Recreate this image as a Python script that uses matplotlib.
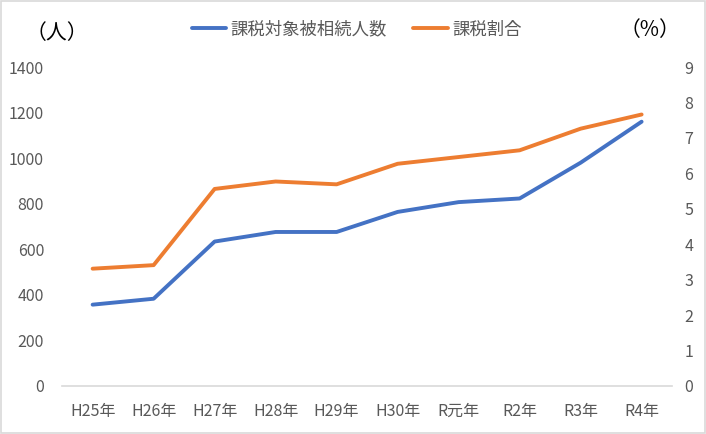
import matplotlib
matplotlib.use("Agg")
import matplotlib.pyplot as plt
from matplotlib.patches import Rectangle

plt.rcParams['font.family'] = ['Noto Sans CJK JP', 'DejaVu Sans']

years = ["H25年", "H26年", "H27年", "H28年", "H29年", "H30年", "R元年", "R2年", "R3年", "R4年"]
taxed_people = [357, 383, 634, 676, 676, 764, 807, 823, 980, 1160]     # 課税対象被相続人数 (人)
taxed_ratio = [3.31, 3.41, 5.56, 5.77, 5.69, 6.27, 6.46, 6.65, 7.26, 7.66]  # 課税割合 (%)
left_ticks = [0, 200, 400, 600, 800, 1000, 1200, 1400]
right_ticks = list(range(0, 10))

BLUE, ORANGE, GREY = "#4472C4", "#ED7D31", "#595959"

fig = plt.figure(figsize=(7.06, 4.34), dpi=100)
fig.patches.append(Rectangle((0.002, 0.003), 0.996, 0.994, transform=fig.transFigure,
                             fill=False, ec="#D9D9D9", lw=1.2))
ax = fig.add_axes([0.088, 0.1106, 0.864, 0.735])
ax2 = ax.twinx()

x = range(len(years))
ln1, = ax.plot(x, taxed_people, color=BLUE, lw=2.8, solid_capstyle="round", label="課税対象被相続人数")
ln2, = ax2.plot(x, taxed_ratio, color=ORANGE, lw=2.8, solid_capstyle="round", label="課税割合")

ax.set_xlim(-0.5, len(years) - 0.5)
ax.set_ylim(0, 1400)
ax2.set_ylim(0, 9)
ax.set_yticks(left_ticks)
ax2.set_yticks(right_ticks)
ax.set_xticks(list(x))
ax.set_xticklabels(years)

for a in (ax, ax2):
    for s in a.spines.values():
        s.set_visible(False)
    a.tick_params(length=0, colors=GREY, labelsize=11.5)
ax.spines["bottom"].set_visible(True)
ax.spines["bottom"].set_color("#D9D9D9")
ax.spines["bottom"].set_linewidth(1.2)
ax.tick_params(axis="y", pad=13)
ax2.tick_params(axis="y", pad=9)
ax.tick_params(axis="x", pad=12)

fig.text(0.08, 0.925, "（人）", ha="center", va="center", fontsize=15, color="black")
fig.text(0.92, 0.932, "（%）", ha="center", va="center", fontsize=15, color="black")

fig.legend(handles=[ln1, ln2], loc="center", bbox_to_anchor=(0.505, 0.932), ncol=2,
           frameon=False, fontsize=12.5, labelcolor=GREY, handlelength=2.0,
           handletextpad=0.25, columnspacing=1.5)

fig.savefig("out.png", dpi=100)
